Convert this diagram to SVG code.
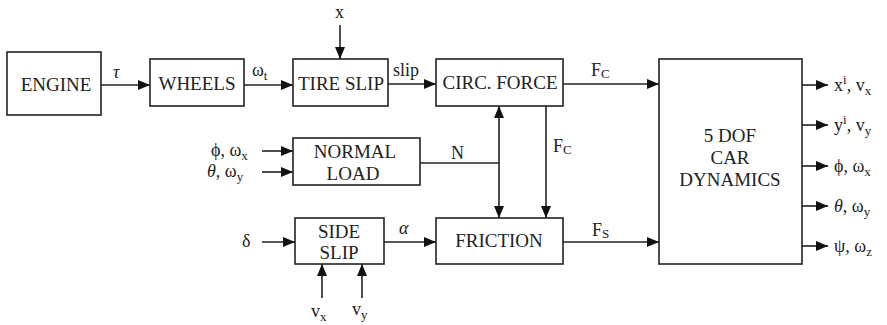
<svg xmlns="http://www.w3.org/2000/svg" width="887" height="325" viewBox="0 0 887 325">
<defs>
<marker id="ah" viewBox="0 0 12 10" refX="12" refY="5" markerWidth="12" markerHeight="10" markerUnits="userSpaceOnUse" orient="auto-start-reverse">
<path d="M0,0 L12,5 L0,10 Z" fill="#111"/>
</marker>
</defs>
<style>
rect.b { fill: #fff; stroke: #222; stroke-width: 1.6; }
.n { font-size: 19px; text-anchor: middle; fill: #222; font-family: 'Liberation Serif', serif; }
.l { font-size: 18px; fill: #222; font-family: 'Liberation Serif', serif; }
.s { font-size: 13px; }
.c line { stroke: #222; stroke-width: 1.6; fill: none; }
</style>
<rect width="887" height="325" fill="#fff"/>
<g class="c" id="connectors">
<line x1="101" y1="85" x2="150" y2="85" marker-end="url(#ah)"/>
<line x1="244" y1="85" x2="293" y2="85" marker-end="url(#ah)"/>
<line x1="340" y1="25" x2="340" y2="59" marker-end="url(#ah)"/>
<line x1="388" y1="84" x2="436" y2="84" marker-end="url(#ah)"/>
<line x1="563" y1="84" x2="659" y2="84" marker-end="url(#ah)"/>
<line x1="499" y1="106" x2="499" y2="218" marker-start="url(#ah)" marker-end="url(#ah)"/>
<line x1="546" y1="106" x2="546" y2="218" marker-end="url(#ah)"/>
<line x1="420" y1="163" x2="499" y2="163"/>
<line x1="262" y1="151" x2="293" y2="151" marker-end="url(#ah)"/>
<line x1="262" y1="172" x2="293" y2="172" marker-end="url(#ah)"/>
<line x1="262" y1="242" x2="295" y2="242" marker-end="url(#ah)"/>
<line x1="384" y1="242" x2="436" y2="242" marker-end="url(#ah)"/>
<line x1="563" y1="242" x2="659" y2="242" marker-end="url(#ah)"/>
<line x1="322" y1="298" x2="322" y2="264" marker-end="url(#ah)"/>
<line x1="362" y1="298" x2="362" y2="264" marker-end="url(#ah)"/>
<line x1="802" y1="85" x2="828" y2="85" marker-end="url(#ah)"/>
<line x1="802" y1="125" x2="828" y2="125" marker-end="url(#ah)"/>
<line x1="802" y1="166" x2="828" y2="166" marker-end="url(#ah)"/>
<line x1="802" y1="206" x2="828" y2="206" marker-end="url(#ah)"/>
<line x1="802" y1="246" x2="828" y2="246" marker-end="url(#ah)"/>
</g>
<g id="labels">
<text class="l" x="113" y="78" font-style="italic">τ</text>
<text class="l" x="252" y="76">ω<tspan class="s" dy="4">t</tspan></text>
<text class="l" x="335" y="18">x</text>
<text class="l" x="393" y="76">slip</text>
<text class="l" x="591" y="76">F<tspan class="s" dy="2">C</tspan></text>
<text class="l" x="553" y="152">F<tspan class="s" dy="2">C</tspan></text>
<text class="l" x="451" y="159">N</text>
<text class="l" x="211" y="156">ϕ, ω<tspan class="s" dy="4">x</tspan></text>
<text class="l" x="207" y="177"><tspan font-style="italic">θ</tspan>, ω<tspan class="s" dy="4">y</tspan></text>
<text class="l" x="242" y="247">δ</text>
<text class="l" x="399" y="234" font-style="italic">α</text>
<text class="l" x="592" y="236">F<tspan class="s" dy="2">S</tspan></text>
<text class="l" x="311" y="317">v<tspan class="s" dy="4">x</tspan></text>
<text class="l" x="352" y="315">v<tspan class="s" dy="4">y</tspan></text>
<text class="l" x="834" y="91">x<tspan class="s" dy="-7">i</tspan><tspan dy="7">, v</tspan><tspan class="s" dy="4">x</tspan></text>
<text class="l" x="834" y="131">y<tspan class="s" dy="-7">i</tspan><tspan dy="7">, v</tspan><tspan class="s" dy="4">y</tspan></text>
<text class="l" x="834" y="172">ϕ, ω<tspan class="s" dy="4">x</tspan></text>
<text class="l" x="834" y="212"><tspan font-style="italic">θ</tspan>, ω<tspan class="s" dy="4">y</tspan></text>
<text class="l" x="834" y="252">ψ, ω<tspan class="s" dy="4">z</tspan></text>
</g>
<g id="engine"><rect class="b" x="7" y="52" width="94" height="63"/><text class="n" x="56" y="91">ENGINE</text></g>
<g id="wheels"><rect class="b" x="150" y="59" width="94" height="47"/><text class="n" x="197" y="90">WHEELS</text></g>
<g id="tire-slip"><rect class="b" x="293" y="59" width="95" height="47"/><text class="n" x="341" y="90">TIRE SLIP</text></g>
<g id="circ-force"><rect class="b" x="436" y="59" width="127" height="47"/><text class="n" x="500" y="89">CIRC. FORCE</text></g>
<g id="normal-load"><rect class="b" x="293" y="138" width="127" height="47"/><text class="n" x="355" y="158">NORMAL</text><text class="n" x="353" y="180">LOAD</text></g>
<g id="side-slip"><rect class="b" x="295" y="218" width="89" height="46"/><text class="n" x="339" y="238">SIDE</text><text class="n" x="339" y="259">SLIP</text></g>
<g id="friction"><rect class="b" x="436" y="218" width="127" height="46"/><text class="n" x="499" y="247">FRICTION</text></g>
<g id="car-dynamics"><rect class="b" x="659" y="59" width="143" height="205"/><text class="n" x="730" y="142">5 DOF</text><text class="n" x="730" y="164">CAR</text><text class="n" x="730" y="186">DYNAMICS</text></g>
</svg>
